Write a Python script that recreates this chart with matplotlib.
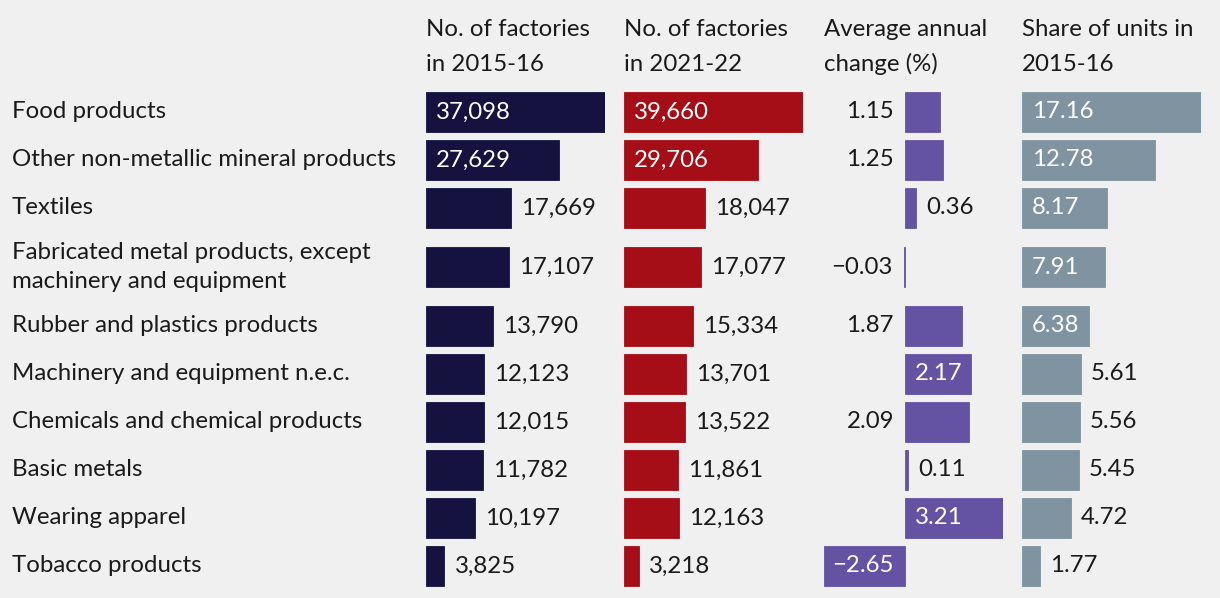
import matplotlib
matplotlib.use("Agg")
import matplotlib.pyplot as plt
from matplotlib.transforms import offset_copy

categories = ["Food products", "Other non-metallic mineral products", "Textiles",
              "Fabricated metal products, except\nmachinery and equipment",
              "Rubber and plastics products", "Machinery and equipment n.e.c.",
              "Chemicals and chemical products", "Basic metals", "Wearing apparel",
              "Tobacco products"]
factories_2015 = [37098, 27629, 17669, 17107, 13790, 12123, 12015, 11782, 10197, 3825]
factories_2021 = [39660, 29706, 18047, 17077, 15334, 13701, 13522, 11861, 12163, 3218]
annual_change = [1.15, 1.25, 0.36, -0.03, 1.87, 2.17, 2.09, 0.11, 3.21, -2.65]
share_2015 = [17.16, 12.78, 8.17, 7.91, 6.38, 5.61, 5.56, 5.45, 4.72, 1.77]
headers = [("No. of factories", "in 2015-16"), ("No. of factories", "in 2021-22"),
           ("Average annual", "change (%)"), ("Share of units in", "2015-16")]

# where the value label goes in the "annual change" column
change_label_pos = ["left", "left", "right", "left", "left", "in", "left", "right", "in", "in"]

W, H = 1220, 598
BG = "#f0f0f0"
INK = "#1a1a1a"
FONT = ["Lato", "DejaVu Sans"]
FS = 17.3

col_left = [426, 624, 824, 1022]
col_w = 179
colors = ["#151240", "#a50e16", "#6453a3", "#8093a0"]

# row layout (pixels from top)
row_h = [48] * len(categories)
row_h[3] = 70
centers = []
top = 88
for h in row_h:
    centers.append(top + h / 2)
    top += h
bar_h = 40


def fmt_int(v):
    return f"{v:,}"


def fmt_dec(v):
    return f"{v:.2f}".replace("-", "\u2212")


fig = plt.figure(figsize=(W / 100, H / 100), dpi=100, facecolor=BG)

# text layer in pixel coordinates
ax0 = fig.add_axes([0, 0, 1, 1])
ax0.set_xlim(0, W)
ax0.set_ylim(H, 0)
ax0.axis("off")
ax0.set_facecolor(BG)

for c, y in zip(categories, centers):
    ax0.text(12, y, c, ha="left", va="center", fontsize=FS, color=INK,
             family=FONT, linespacing=1.45)

for (l1, l2), x in zip(headers, col_left):
    ax0.text(x, 36, l1, ha="left", va="baseline", fontsize=FS, color=INK, family=FONT)
    ax0.text(x, 71, l2, ha="left", va="baseline", fontsize=FS, color=INK, family=FONT)

columns = [factories_2015, factories_2021, annual_change, share_2015]
formats = [fmt_int, fmt_int, fmt_dec, fmt_dec]
inside_frac = [0.5, 0.5, None, 0.35]

for i, (vals, fmt, col) in enumerate(zip(columns, formats, colors)):
    ax = fig.add_axes([col_left[i] / W, 0, col_w / W, 1])
    ax.patch.set_alpha(0)
    lo = min(0, min(vals))
    hi = max(vals)
    ax.set_xlim(lo, hi)
    ax.set_ylim(H, 0)
    ax.axis("off")
    ax.barh(centers, vals, height=bar_h, left=0, color=col,
            edgecolor=col, linewidth=0.6)

    right_off = offset_copy(ax.transData, fig=fig, x=10, y=0, units="dots")
    left_off = offset_copy(ax.transData, fig=fig, x=-11, y=0, units="dots")

    for j, (v, y) in enumerate(zip(vals, centers)):
        label = fmt(v)
        if i == 2:
            pos = change_label_pos[j]
        else:
            pos = "in" if v / hi >= inside_frac[i] else "right"
        kw = dict(va="center", fontsize=FS, family=FONT)
        if pos == "in":
            if v >= 0:
                ax.text(0, y, label, ha="left", color="white", transform=right_off, **kw)
            else:
                ax.text(0, y, label, ha="right", color="white", transform=left_off, **kw)
        elif pos == "right":
            ax.text(v, y, label, ha="left", color=INK, transform=right_off, **kw)
        else:
            ax.text(min(0, v), y, label, ha="right", color=INK, transform=left_off, **kw)

fig.savefig("out.png", dpi=100, facecolor=BG)
